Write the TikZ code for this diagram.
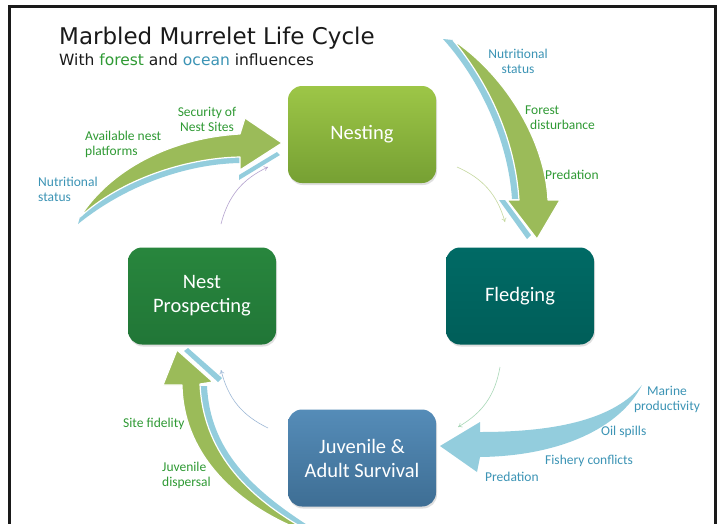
\documentclass[tikz,border=0pt]{standalone}
\usepackage{fontspec}
\setmainfont{Carlito}
\newfontfamily\headfont{DejaVu Sans}
\usetikzlibrary{arrows.meta}
\usetikzlibrary{shadows}
\definecolor{titlegray}{HTML}{1A1A1A}
\definecolor{leafgreen}{HTML}{9BBB59}
\definecolor{seablue}{HTML}{93CDDD}
\definecolor{forestText}{HTML}{2F9A34}
\definecolor{oceanText}{HTML}{3C94B5}
\definecolor{nestTop}{HTML}{9DC647}
\definecolor{nestBottom}{HTML}{76A033}
\definecolor{prospectTop}{HTML}{28863D}
\definecolor{prospectBottom}{HTML}{217637}
\definecolor{fledgeTop}{HTML}{006A65}
\definecolor{fledgeBottom}{HTML}{005E59}
\definecolor{survTop}{HTML}{558CB8}
\definecolor{survBottom}{HTML}{3E6E94}

\begin{document}
\begin{tikzpicture}[x=1pt,y=-1pt,
    stagebox/.style={rounded corners=14pt, minimum width=148pt, minimum height=97pt,
        text=white, align=center, font=\fontsize{20.5}{24}\selectfont,
        drop shadow={opacity=0.25, shadow xshift=1pt, shadow yshift=-2pt}},
    forestlabel/.style={text=forestText, inner sep=0pt, font=\fontsize{13.5}{15}\selectfont},
    oceanlabel/.style={text=oceanText, inner sep=0pt, font=\fontsize{13.5}{15}\selectfont},
    turn/.style={-{To[length=4pt,width=5pt]}, line width=0.6pt, bend left=25},
    band/.style={fill=seablue},
    bigarrow/.style={fill=leafgreen, draw=white, line width=1.2pt, line join=round}]
    \useasboundingbox (0,0) rectangle (718,523);
    \fill[white] (0,0) rectangle (718,523);

    % Draw the frame
    \draw[line width=3pt, color=titlegray] (9,540) -- (9,6) -- (715.5,6) -- (715.5,540);

    % Draw the forest arrow into Nesting
    \fill[band] (240,155) .. controls (185,156) and (120,178) .. (80,217) -- (78,224) .. controls (125,186) and (185,164) .. (240,163) -- cycle;
    \fill[band] (239,175) -- (277,152) -- (280,155) -- (239,180) -- cycle;
    \draw[bigarrow] (80,217) .. controls (110,170) and (170,138) .. (240,134) -- (245,118) -- (282,143)
        -- (240,170) -- (240,157) .. controls (185,158) and (120,180) .. (80,217) -- cycle;

    % Draw the forest arrow into Fledging
    \fill[band] (443,39) .. controls (480,80) and (508,140) .. (512,199) -- (521,199) .. controls (517,140) and (492,85) .. (453,40) -- cycle;
    \fill[band] (499,200) -- (505,200) -- (531,235) -- (527,239) -- cycle;
    \draw[bigarrow] (453,40) .. controls (505,75) and (545,140) .. (548,200) -- (560,200) -- (537,239)
        -- (507,200) -- (519,200) .. controls (515,140) and (490,85) .. (453,40) -- cycle;

    % Draw the forest arrow into Nest Prospecting
    \fill[band] (200,386) .. controls (203,450) and (245,495) .. (303,528) -- (312,528) .. controls (252,490) and (210,450) .. (207,386) -- cycle;
    \fill[band] (184,351) -- (188,348) -- (222,378) -- (218,382) -- cycle;
    \draw[bigarrow] (182,385) .. controls (183,450) and (230,500) .. (296,528) -- (310,535)
        -- (303,528) .. controls (245,495) and (203,450) .. (200,384) -- (213,382) -- (177,350) -- (163,385) -- cycle;

    % Draw the ocean arrow into Juvenile & Adult Survival
    \fill[seablue] (642,385) .. controls (615,418) and (560,432) .. (480,432) -- (480,422) -- (440,446)
        -- (477,472) -- (480,457) .. controls (560,456) and (620,428) .. (642,385) -- cycle;

    % Draw the four stages
    \node[stagebox, top color=nestTop, bottom color=nestBottom] (nesting) at (362,134.5) {Nesting};
    \node[stagebox, top color=fledgeTop, bottom color=fledgeBottom] (fledging) at (520,296) {Fledging};
    \node[stagebox, top color=survTop, bottom color=survBottom] (survival) at (362,458) {Juvenile \&\\Adult Survival};
    \node[stagebox, top color=prospectTop, bottom color=prospectBottom] (prospecting) at (202,296) {Nest\\Prospecting};

    % Draw the cycle arrows
    \coordinate (nestOut) at (457,167);
    \coordinate (fledgeIn) at (505,222);
    \coordinate (fledgeOut) at (500,367);
    \coordinate (survIn) at (458,427);
    \coordinate (survOut) at (268,428);
    \coordinate (prospIn) at (221,370);
    \coordinate (prospOut) at (221,224);
    \coordinate (nestIn) at (268,167);
    \draw[turn, color={rgb,255:red,197;green,216;blue,159}] (nestOut) to (fledgeIn);
    \draw[turn, color={rgb,255:red,169;green,216;blue,184}] (fledgeOut) to (survIn);
    \draw[turn, color={rgb,255:red,157;green,184;blue,214}] (survOut) to (prospIn);
    \draw[turn, color={rgb,255:red,181;green,163;blue,207}] (prospOut) to (nestIn);

    % Draw the influences
    \node[forestlabel, align=center] (security) at (207,119.5) {Security of\\Nest Sites};
    \node[forestlabel, align=left, anchor=west] (platforms) at (85,144.5) {Available nest\\platforms};
    \node[oceanlabel, align=left, anchor=west] (foodNest) at (38,189.5) {Nutritional\\status};
    \node[oceanlabel, align=center] (foodFledge) at (518,61) {Nutritional\\status};
    \node[forestlabel, align=left, anchor=west] (disturbance) at (525,117.5) {Forest\\\hspace*{5pt}disturbance};
    \node[forestlabel, anchor=west] (predNest) at (545,175) {Predation};
    \node[forestlabel, anchor=west] (fidelity) at (123,424) {Site fidelity};
    \node[forestlabel, align=left, anchor=west] (dispersal) at (162,475.5) {Juvenile\\dispersal};
    \node[oceanlabel, align=center] (marine) at (667,399) {Marine\\productivity};
    \node[oceanlabel, anchor=west] (oil) at (601,432) {Oil spills};
    \node[oceanlabel, anchor=west] (fishery) at (545,460.5) {Fishery conflicts};
    \node[oceanlabel, anchor=west] (predSea) at (485,477) {Predation};

    % Draw the title
    \node[anchor=base west, inner sep=0pt, text=titlegray, font=\headfont\fontsize{23}{27}\selectfont] (title) at (59,44.3) {Marbled Murrelet Life Cycle};
    \node[anchor=base west, inner sep=0pt, text=titlegray, font=\headfont\fontsize{15.5}{18}\selectfont] (subtitle) at (59,65)
        {With \textcolor{forestText}{forest} and \textcolor{oceanText}{ocean} influences};
\end{tikzpicture}
\end{document}
